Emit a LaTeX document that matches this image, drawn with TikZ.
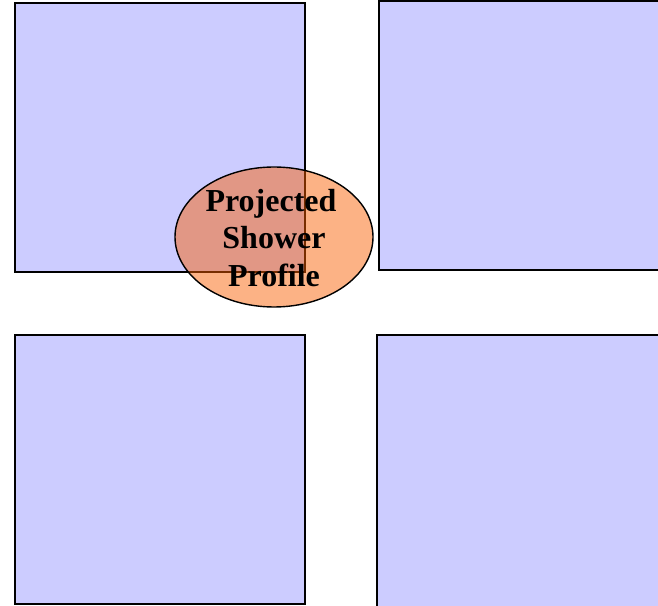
\documentclass[tikz,border=0pt]{standalone}
\usepackage{fontspec}
\setmainfont{Liberation Serif}
\usetikzlibrary{shapes.geometric}
\begin{document}
\begin{tikzpicture}[x=1pt,y=1pt,
  detector/.style={draw=black,line width=1.4pt,fill={rgb,255:red,204;green,204;blue,255}},
  shower/.style={ellipse,draw=black,line width=1.4pt,fill={rgb,255:red,249;green,95;blue,0},fill opacity=0.48,inner sep=0pt,minimum width=198pt,minimum height=140pt},
]
\clip (0,0) rectangle (658,605);
\useasboundingbox (0,0) rectangle (658,605);
\draw[detector] (15,602) rectangle (305,333);
\draw[detector] (379,604) rectangle (662,335);
\draw[detector] (15,270) rectangle (305,1);
\draw[detector] (377,270) rectangle (662,-2);
\node[shower] (prof) at (274,368) {};
\node[align=center,font=\fontsize{32}{37.5}\selectfont\bfseries] (lbl) at (271,367) {Projected\\\hspace*{6pt}Shower\\\hspace*{6pt}Profile};
\end{tikzpicture}
\end{document}
